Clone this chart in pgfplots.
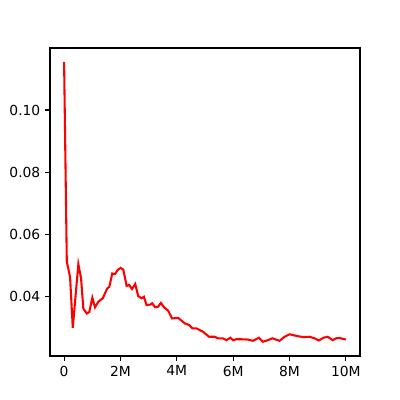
\documentclass[border=0pt]{standalone}
\usepackage{fontspec}
\setmainfont{DejaVu Sans}
\usepackage{pgfplots}
\pgfplotsset{compat=1.18}

\begin{document}
\begin{tikzpicture}
\begin{axis}[
  scale only axis,
  width=3.1in, height=3.08in,
  at={(0,0)}, anchor=south west,
  xmin=-0.5, xmax=10.5,
  ymin=0.0207, ymax=0.1200,
  xtick={0,2,4,6,8,10},
  xticklabels={0,2M,4M,6M,8M,10M},
  ytick={0.04,0.06,0.08,0.10},
  yticklabels={0.04,0.06,0.08,0.10},
  tick align=outside,
  major tick length=3.5pt,
  tick style={black, line width=0.8pt},
  xtick pos=lower, ytick pos=left,
  axis line style={line width=0.8pt},
  tick label style={font=\fontsize{10}{12}\selectfont},
  scaled ticks=false,
]
\addplot[color=red, line width=1.5pt] coordinates {
(0.000,0.1155) (0.096,0.0511) (0.212,0.0462) (0.308,0.0298) (0.506,0.0503)
(0.602,0.0458) (0.683,0.0360) (0.804,0.0344) (0.896,0.0349) (1.002,0.0395)
(1.097,0.0364) (1.214,0.0382) (1.370,0.0393) (1.451,0.0409) (1.533,0.0425)
(1.604,0.0430) (1.710,0.0473) (1.805,0.0471) (1.901,0.0484) (2.007,0.0491)
(2.099,0.0486) (2.219,0.0433) (2.312,0.0436) (2.407,0.0423) (2.524,0.0439)
(2.630,0.0400) (2.750,0.0393) (2.832,0.0398) (2.927,0.0371) (3.069,0.0373)
(3.126,0.0377) (3.232,0.0364) (3.338,0.0366) (3.434,0.0378) (3.550,0.0364)
(3.692,0.0353) (3.834,0.0328) (4.046,0.0330) (4.283,0.0312) (4.435,0.0307)
(4.556,0.0296) (4.697,0.0296) (4.931,0.0285) (5.143,0.0269) (5.345,0.0269)
(5.462,0.0264) (5.639,0.0264) (5.759,0.0258) (5.901,0.0266) (5.993,0.0258)
(6.113,0.0261) (6.290,0.0261) (6.524,0.0260) (6.701,0.0256) (6.913,0.0266)
(7.055,0.0253) (7.232,0.0258) (7.388,0.0264) (7.646,0.0256) (7.823,0.0269)
(8.000,0.0277) (8.237,0.0272) (8.471,0.0268) (8.708,0.0269) (8.885,0.0264)
(9.037,0.0257) (9.204,0.0266) (9.356,0.0269) (9.533,0.0258) (9.653,0.0264)
(9.770,0.0265) (10.000,0.0260)
};
\end{axis}
\path[use as bounding box] (-0.5in,-0.44in) rectangle (3.5in,3.56in);
\end{tikzpicture}
\end{document}
